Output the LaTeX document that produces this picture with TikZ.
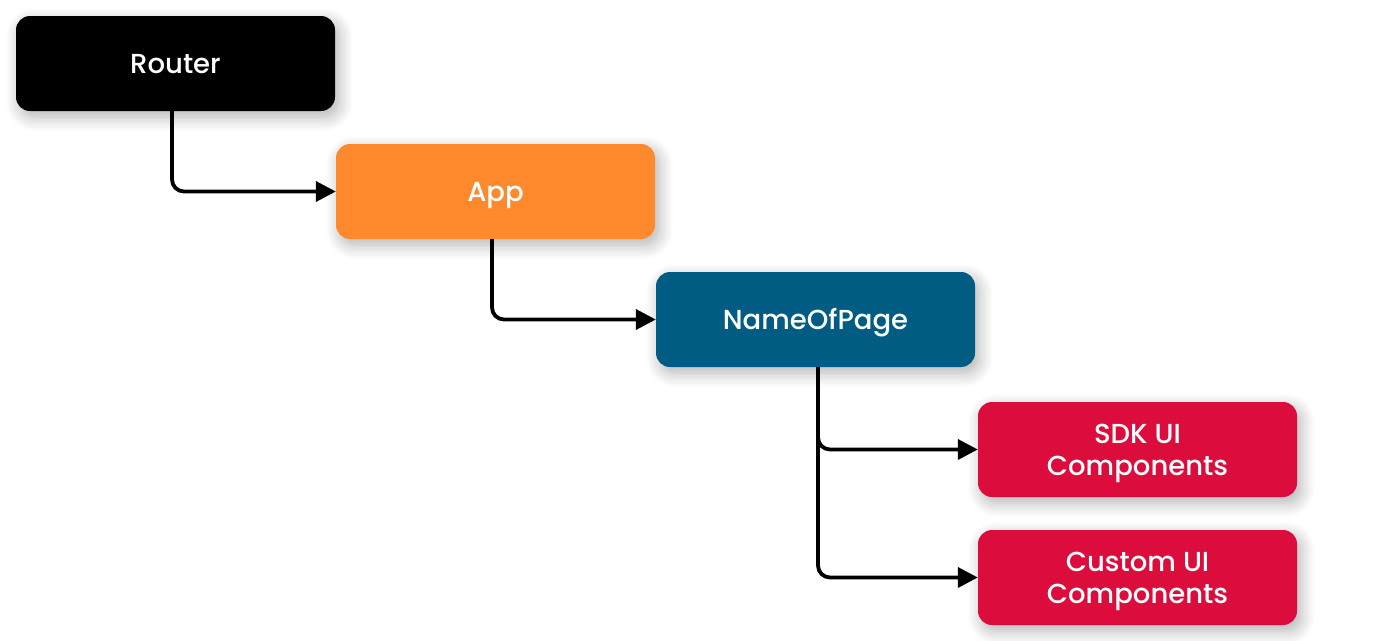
\documentclass[tikz,border=0pt]{standalone}
\usepackage{fontspec}
\setmainfont{Poppins Medium}
\usetikzlibrary{arrows.meta,shadows.blur,calc}
\definecolor{routerc}{HTML}{000000}
\definecolor{appc}{HTML}{FF8A2E}
\definecolor{pagec}{HTML}{005C83}
\definecolor{compc}{HTML}{DC0C3C}
\newcommand{\lowtext}[1]{\raisebox{-3.5pt}[\height][\depth]{\begin{tabular}{@{}c@{}}#1\end{tabular}}}
\tikzset{
  box/.style={rounded corners=14pt, minimum width=319pt, minimum height=95pt,
    text=white, align=center, font=\fontsize{27.5}{32}\selectfont, inner sep=0pt,
    blur shadow={shadow xshift=4pt, shadow yshift=-6pt, shadow blur steps=10, shadow blur radius=14pt, shadow opacity=30}},
  conn/.style={line width=3.8pt, rounded corners=12pt, -{Triangle[length=20pt,width=20pt]}}
}
\begin{document}
\begin{tikzpicture}[x=1pt,y=-1pt]
\useasboundingbox (0,0) rectangle (1376,640);
\node[box, fill=routerc] (router) at (175.5,63.5) {\lowtext{Router}};
\node[box, fill=appc] (app) at (495.5,191.5) {\lowtext{App}};
\node[box, fill=pagec] (page) at (815.5,319.5) {\lowtext{NameOfPage}};
\node[box, fill=compc] (sdk) at (1137.5,449.5) {\lowtext{SDK UI\\Components}};
\node[box, fill=compc] (custom) at (1137.5,577.5) {\lowtext{Custom UI\\Components}};
\coordinate (r1) at ([xshift=-3.5pt]router.south);
\coordinate (a1) at ([xshift=-3.5pt]app.south);
\coordinate (p1) at ([xshift=2.5pt]page.south);
\draw[conn] (r1) |- (app.west);
\draw[conn] (a1) |- (page.west);
\draw[conn] (p1) |- (sdk.west);
\draw[conn] (p1) |- (custom.west);
\end{tikzpicture}
\end{document}
